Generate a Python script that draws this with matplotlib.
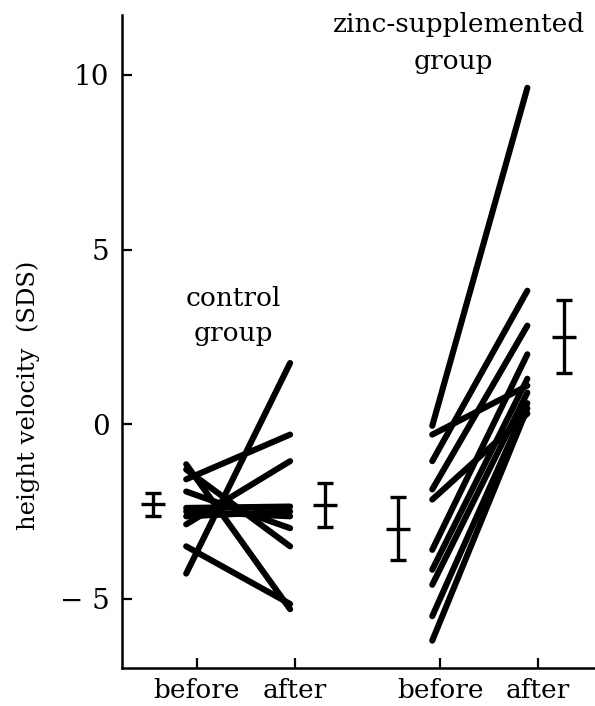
import matplotlib
matplotlib.use("Agg")
import matplotlib.pyplot as plt

# --- data ---
control_before = [-4.28, -1.58, -2.87, -1.15, -1.30, -3.50, -1.93, -2.40, -2.64, -2.50]
control_after  = [1.75, -0.30, -1.06, -5.30, -3.50, -5.15, -2.98, -2.36, -2.50, -2.64]
zinc_before = [-0.05, -0.30, -1.06, -1.87, -2.16, -3.60, -4.17, -4.60, -5.50, -6.20]
zinc_after  = [9.63, 1.10, 3.82, 2.82, 0.30, 2.00, 1.30, 0.90, 0.60, 0.45]

summary_x    = [0.55, 2.31, 3.05, 4.74]
summary_mean = [-2.30, -2.33, -3.00, 2.50]
summary_err  = [0.32, 0.63, 0.90, 1.05]

tick_pos = [1.0, 2.0, 3.48, 4.48]
tick_labels = ["before", "after", "before", "after"]
ctrl_line_x = [0.89, 1.95]
zinc_line_x = [3.40, 4.37]

fam = ["DejaVu Serif"]
fig = plt.figure(figsize=(5.95, 7.06), dpi=100)
ax = fig.add_axes([0.205, 0.054, 0.795, 0.925])

for b, a in zip(control_before, control_after):
    ax.plot(ctrl_line_x, [b, a], color="black", lw=4.4, solid_capstyle="round")
for b, a in zip(zinc_before, zinc_after):
    ax.plot(zinc_line_x, [b, a], color="black", lw=4.4, solid_capstyle="round")

ax.errorbar(summary_x, summary_mean, yerr=summary_err, fmt="_", color="black",
            ms=17, mew=2.4, elinewidth=2.4, capsize=5.5, capthick=2.6)

ax.set_xlim(0.235, 5.06)
ax.set_ylim(-6.98, 11.72)
ax.set_yticks([-5, 0, 5, 10])
ax.set_yticklabels(["\u2212 5", "0", "5", "10"], fontfamily=fam, fontsize=20)
ax.set_xticks(tick_pos)
ax.set_xticklabels(tick_labels, fontfamily=fam, fontsize=19)
ax.tick_params(direction="in", length=7, width=1.6, pad=7)
ax.tick_params(axis="y", pad=9)
ax.spines["top"].set_visible(False)
ax.spines["right"].set_visible(False)
for s in ("left", "bottom"):
    ax.spines[s].set_linewidth(1.8)

ax.set_ylabel("height velocity  (SDS)", fontfamily=fam, fontsize=17.5)
ax.yaxis.set_label_coords(-0.173, 0.417)

ax.text(1.37, 3.6, "control", ha="center", va="center", fontfamily=fam, fontsize=19)
ax.text(1.37, 2.6, "group", ha="center", va="center", fontfamily=fam, fontsize=19)
ax.text(3.67, 11.44, "zinc-supplemented", ha="center", va="center", fontfamily=fam, fontsize=19)
ax.text(3.62, 10.37, "group", ha="center", va="center", fontfamily=fam, fontsize=19)

fig.savefig("out.png", dpi=100)
